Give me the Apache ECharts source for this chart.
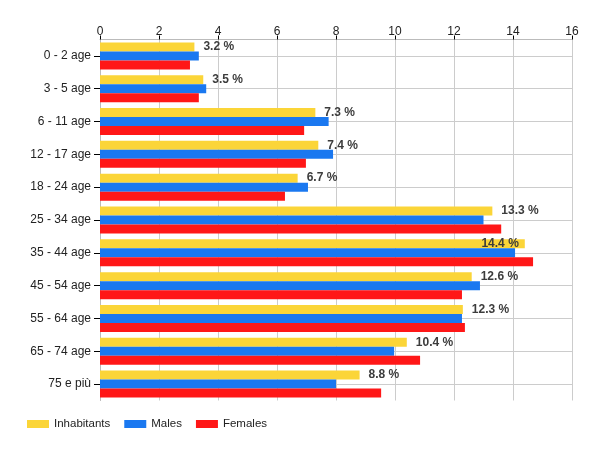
<!DOCTYPE html>
<html><head><meta charset="utf-8">
<script src="https://cdn.jsdelivr.net/npm/echarts@6/dist/echarts.min.js"></script>
<style>html,body{margin:0;padding:0;background:#fff}#c{width:600px;height:450px}</style>
</head><body><div id="c"></div>
<script>
const categories = ['0 - 2 age','3 - 5 age','6 - 11 age','12 - 17 age','18 - 24 age','25 - 34 age','35 - 44 age','45 - 54 age','55 - 64 age','65 - 74 age','75 e più'];
const inhabitants = [3.2, 3.5, 7.3, 7.4, 6.7, 13.3, 14.4, 12.6, 12.3, 10.4, 8.8];
const males = [3.35, 3.6, 7.75, 7.9, 7.05, 13.0, 14.07, 12.88, 12.27, 9.97, 8.0];
const females = [3.05, 3.35, 6.92, 6.98, 6.27, 13.6, 14.68, 12.27, 12.37, 10.85, 9.53];
const xTicks = {min: 0, max: 16, interval: 2};

const font = 'Liberation Sans, Arial, sans-serif';
const labelStyle = {show: true, position: 'right', distance: 9, formatter: '{c} %', color: '#3c3c3c', fontWeight: 'bold', fontSize: 12, fontFamily: font};
const inhData = inhabitants.map(v => v === 14.4 ? {value: v, label: {position: 'insideRight', distance: 6}} : v);

const chart = echarts.init(document.getElementById('c'), null, {renderer: 'canvas'});
chart.setOption({
  animation: false,
  textStyle: {fontFamily: font},
  grid: {left: 100, right: 28, top: 39.5, height: 361, containLabel: false, outerBoundsMode: 'none'},
  xAxis: {
    type: 'value', position: 'top', min: xTicks.min, max: xTicks.max, interval: xTicks.interval,
    axisLine: {show: true, lineStyle: {color: '#bbb'}},
    axisTick: {show: true, length: 4, lineStyle: {color: '#000'}},
    axisLabel: {color: '#222', fontSize: 12, fontFamily: font, margin: 2},
    splitLine: {show: true, lineStyle: {color: '#ccc'}}
  },
  yAxis: {
    type: 'category', data: categories, inverse: true,
    axisLine: {show: true, lineStyle: {color: '#bbb'}},
    axisTick: {show: true, alignWithLabel: true, length: 6, lineStyle: {color: '#000'}},
    axisLabel: {color: '#222', fontSize: 12, fontFamily: font, margin: 9},
    splitLine: {show: true, alignWithLabel: true, lineStyle: {color: '#ccc'}}
  },
  legend: {
    left: 27, top: 418, padding: 0, icon: 'rect', itemWidth: 22, itemHeight: 8, itemGap: 14,
    textStyle: {color: '#222', fontSize: 11.5, fontFamily: font},
    data: ['Inhabitants','Males','Females']
  },
  series: [
    {name: 'Inhabitants', type: 'bar', data: inhData, barWidth: 9, barGap: '0%', itemStyle: {color: '#fbd538'}, label: labelStyle},
    {name: 'Males', type: 'bar', data: males, barWidth: 9, barGap: '0%', itemStyle: {color: '#1a78f0'}},
    {name: 'Females', type: 'bar', data: females, barWidth: 9, barGap: '0%', itemStyle: {color: '#ff1717'}}
  ]
});
</script></body></html>
